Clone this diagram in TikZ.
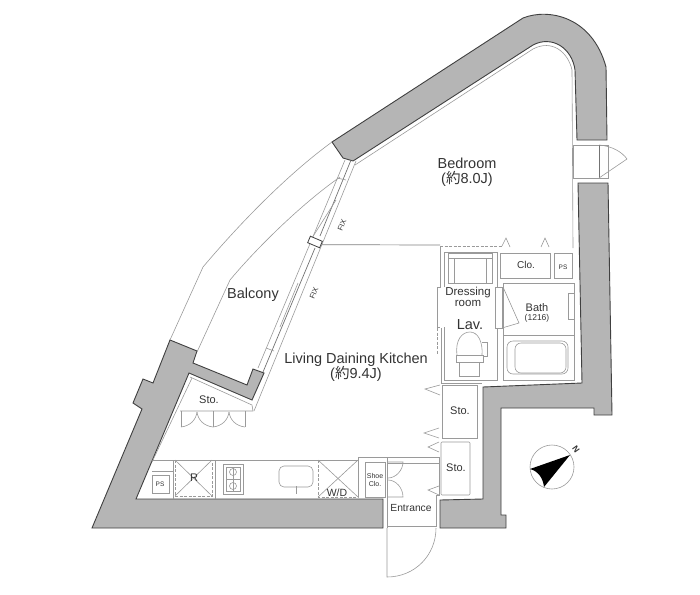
\documentclass[tikz,border=0pt]{standalone}
\usepackage{fontspec}
\setmainfont{Liberation Sans}
\newfontfamily\jpfont{Noto Sans CJK JP}
\definecolor{wallgray}{HTML}{B5B5B5}
\definecolor{linegray}{HTML}{9A9A9A}
\definecolor{textgray}{HTML}{333333}
\tikzset{
  wall/.style={fill=wallgray,draw=black!75,line width=.9pt,line join=miter},
  fineline/.style={draw=linegray,line width=.6pt},
  darkline/.style={draw=black!55,line width=.7pt},
  dashline/.style={draw=linegray,line width=.7pt,dash pattern=on 3pt off 1.5pt},
  biglabel/.style={text=textgray,font=\fontsize{14.5}{15.5}\selectfont,align=center,inner sep=0pt},
  midlabel/.style={text=textgray,font=\fontsize{11}{11}\selectfont,align=center,inner sep=0pt},
  tinylabel/.style={text=textgray,font=\fontsize{7.5}{8}\selectfont,align=center,inner sep=0pt},
}
\begin{document}
\begin{tikzpicture}[x=1pt,y=-1pt]
\useasboundingbox (0,0) rectangle (700,594);

% Concrete walls
\draw[wall] (332,142) -- (523,18) .. controls (548,8) and (592,16) .. (606,67)
  -- (607,140) -- (577,140) -- (575,70) .. controls (572,48) and (552,35) .. (533,45)
  -- (353,161) -- (343,158) -- cycle;
\draw[wall] (578,183) -- (608,183) -- (612,415) -- (594,415) -- (594,408) -- (501,408)
  -- (501,515) -- (506,515) -- (506,528) -- (440,528) -- (440,500) -- (483,499)
  -- (483,387) -- (582,383) -- cycle;
\draw[wall] (170,340) -- (197,351) -- (193,363) -- (247,385) -- (253,369) -- (264,373)
  -- (252,400) -- (189,373) -- (136,499) -- (383,499) -- (383,528) -- (92,528)
  -- (142,409) -- (133,403) -- (143,379) -- (153,383) -- cycle;

% Finish line along the curved wall
\draw[fineline] (355,165) -- (533,49) .. controls (552,39) and (568,52) .. (572,70) -- (573,248);
\draw[fineline] (192,378) -- (152,462);

% Side window of the bedroom
\draw[fineline] (573,145) rectangle (608,178);
\draw[darkline] (599,145) -- (599,178);
\draw[fineline] (599,145) .. controls (612,146) and (622,152) .. (627,159) -- (599,178);

% Balcony
\draw[fineline] (332,142) .. controls (280,180) and (230,235) .. (203,267) -- (170,340);
\draw[fineline] (340,177) .. controls (300,205) and (255,250) .. (230,280) -- (197,352);

% Window band
\coordinate (WinA) at (345,160);
\coordinate (WinB) at (356,161);
\draw[fineline] (WinA) -- (258,368);
\draw[fineline] (WinB) -- (254,411);
\draw[darkline] (351,160) -- (320,236);
\draw[darkline] (315,248) -- (263,372);
\draw[fineline] (336,200) -- (312,238);
\draw[fineline] (298,283) -- (280,327);
\draw[fineline] (337,178) -- (346,180);
\draw[fineline] (266,348) -- (274,351);
\node[draw=black!75,fill=white,line width=.8pt,minimum width=13pt,minimum height=7pt,inner sep=0pt,rotate=-23] (mullion) at (315,242) {};
\draw[draw=black!50,line width=.7pt] (mullion.east) -- (440,245);
\node[tinylabel,rotate=67] (fixa) at (342,225) {FIX};
\node[tinylabel,rotate=67] (fixb) at (314,293) {FIX};

% Sto. beside the balcony
\draw[fineline] (190,377) -- (252,405) -- (253,411) -- (180,411);
\foreach \x in {181,213,245} \draw[fineline] (\x,411) -- (\x,427);
\draw[fineline] (181,427) .. controls (190,426) and (196,420) .. (197,412);
\draw[fineline] (213,427) .. controls (204,426) and (198,420) .. (197,412);
\draw[fineline] (213,427) .. controls (222,426) and (228,420) .. (229,412);
\draw[fineline] (245,427) .. controls (236,426) and (230,420) .. (229,412);

% Kitchen counter
\draw[fineline] (153,460) -- (358,460);
\foreach \x in {173,215} \draw[fineline] (\x,460) -- (\x,499);
\draw[fineline] (152,471) -- (173,471);
\draw[fineline] (152,475) rectangle (169,493);
\draw[dashline] (175,460) rectangle (212,496);
\draw[fineline] (175,460) -- (212,496) (212,460) -- (175,496);
\draw[fineline] (223,464) rectangle (243,494);
\draw[fineline] (226,467) rectangle (240,491);
\foreach \y in {472,486} \draw[fineline] (233,\y) circle (3.5);
\draw[fineline] (226,479) -- (240,479) (233,467) -- (233,491);
\draw[fineline,rounded corners=5pt] (279,466) rectangle (313,487);
\draw[fineline] (296,486) -- (296,494);
\draw[dashline] (318,460) rectangle (358,497);
\draw[fineline] (318,460) -- (358,497) (358,460) -- (318,497);

% Entrance
\draw[fineline] (358,497) -- (358,457) -- (439,457) -- (439,495) -- (436,495) -- (436,527);
\draw[fineline] (387,463) -- (439,463);
\draw[fineline] (387,457) -- (387,528);
\draw[fineline] (387,526) -- (436,526);
\draw[fineline] (365,462) rectangle (385,497);
\draw[fineline] (387,462) -- (403,462) .. controls (403,470) and (396,478) .. (388,478);
\draw[fineline] (388,480) .. controls (396,480) and (403,488) .. (403,497) -- (387,497);
\draw[fineline] (387,528) -- (387,577) .. controls (415,577) and (436,555) .. (436,528);

% Storage by the entrance
\draw[fineline] (442,385) -- (442,438) -- (477,438) -- (477,385) -- cycle;
\draw[fineline,rounded corners=1pt] (441,442) rectangle (470,495);
\draw[fineline] (440,385) -- (425,389) -- (440,395);
\draw[fineline] (439,428) -- (424,433) -- (439,438);
\draw[fineline] (439,442) -- (428,447) -- (439,452);
\draw[fineline] (439,486) -- (428,490) -- (439,495);

% Dressing room and washstand
\draw[dashline] (440,246) -- (502,246);
\draw[fineline] (441,383) -- (482,383);
\draw[fineline] (440,246) -- (440,287) -- (437,287) -- (437,327) -- (440,327);
\draw[dashline] (437,328) -- (437,355);
\draw[fineline] (441,328) -- (441,383);
\draw[fineline] (444,327) -- (444,380) -- (497,380) -- (497,328);
\draw[fineline] (444,287) -- (444,252) -- (497,252) -- (497,287);
\draw[fineline] (448,253) rectangle (492,283);
\draw[fineline] (448,258) -- (492,258);
\draw[fineline] (454,258) -- (454,283) (486,258) -- (486,283);
\draw[fineline] (495,287) rectangle (502,328);
\draw[fineline] (503,287) -- (519,323) -- (502,328);

% Toilet
\draw[fineline] (459,362) rectangle (479,376);
\draw[fineline] (456,355) rectangle (483,362);
\draw[fineline] (457,355) .. controls (455,340) and (462,332) .. (470,332) .. controls (478,332) and (483,342) .. (482,355);
\draw[fineline] (482,342) -- (487,342) -- (487,356) -- (483,356);

% Closet, PS and bathroom
\draw[fineline] (500,253) rectangle (550,278);
\draw[fineline] (554,253) rectangle (572,278);
\draw[fineline] (502,246) -- (506,238) -- (510,247);
\draw[fineline] (541,247) -- (545,238) -- (549,247);
\draw[fineline] (503,283) rectangle (574,380);
\draw[fineline] (503,335) -- (574,335);
\draw[fineline,rounded corners=6pt] (507,341) rectangle (568,374);
\draw[fineline,rounded corners=6pt] (515,343) rectangle (566,373);
\draw[fineline] (568,293) rectangle (574,319);

% Compass
\node[draw=linegray,line width=.6pt,circle,minimum size=44pt,inner sep=0pt] (compass) at (552,467) {};
\fill[black] (570,455) -- (530,469) .. controls (538,471) and (543,478) .. (544,487) -- cycle;
\node[text=textgray,font=\fontsize{8.5}{9}\selectfont\bfseries,rotate=-55,inner sep=0pt] (north) at (576,449) {N};

% Room labels
\node[biglabel] (bedroom) at (467,172) {Bedroom\\({\jpfont 約}8.0J)};
\node[biglabel] (balcony) at (253,295) {Balcony};
\node[biglabel] (ldk) at (356,367) {Living Daining Kitchen\\({\jpfont 約}9.4J)};
\node[midlabel,font=\fontsize{10}{10}\selectfont] (clo) at (526,265) {Clo.};
\node[tinylabel,font=\fontsize{6.5}{7}\selectfont] (psa) at (563,267) {PS};
\node[midlabel,font=\fontsize{11.5}{10.5}\selectfont] (dress) at (468,297) {Dressing\\room};
\node[biglabel] (lav) at (470,325) {Lav.};
\node[midlabel] (bath) at (537,308) {Bath};
\node[tinylabel,font=\fontsize{8.5}{9}\selectfont] (size) at (537,318) {(1216)};
\node[midlabel] (stoa) at (209,400) {Sto.};
\node[tinylabel,font=\fontsize{6.5}{7}\selectfont] (psb) at (160,484) {PS};
\node[midlabel] (fridge) at (194,478) {R};
\node[midlabel,font=\fontsize{10.5}{11}\selectfont] (wd) at (337,493) {W/D};
\node[tinylabel,font=\fontsize{7}{7.5}\selectfont] (shoe) at (375,480) {Shoe\\Clo.};
\node[midlabel] (stob) at (460,411) {Sto.};
\node[midlabel] (stoc) at (456,468) {Sto.};
\node[midlabel,font=\fontsize{10.3}{11}\selectfont] (entrance) at (411,508) {Entrance};
\end{tikzpicture}
\end{document}
